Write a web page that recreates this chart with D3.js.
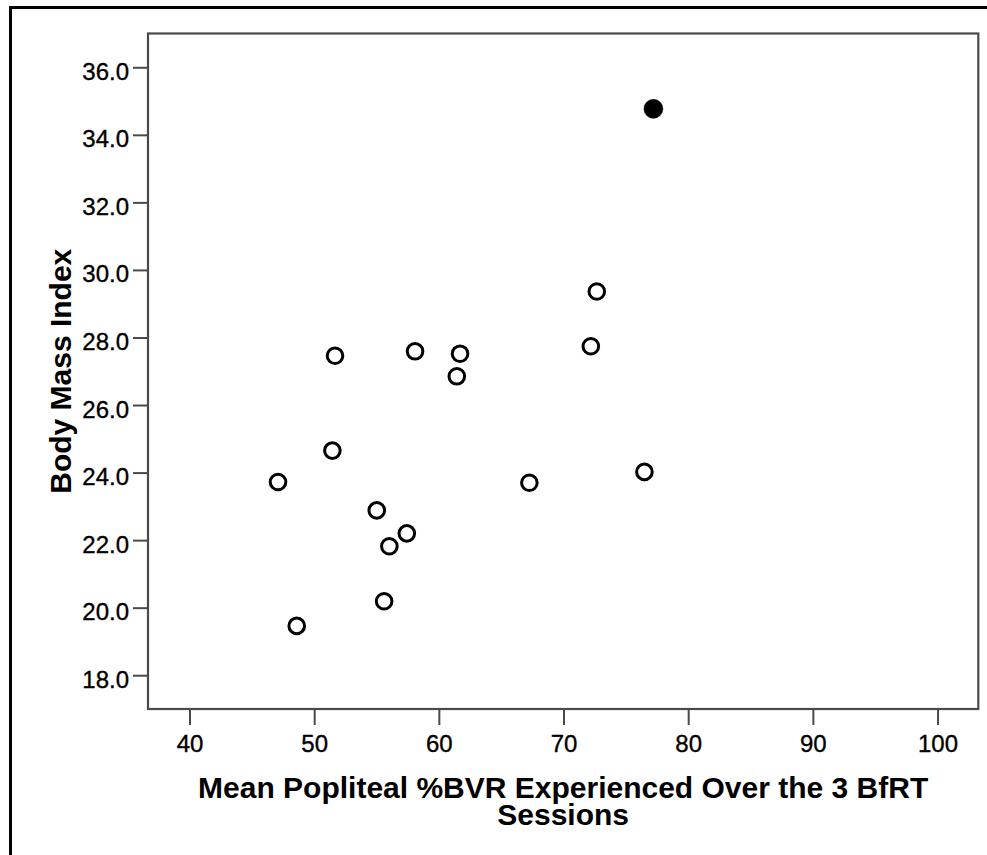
<!DOCTYPE html>
<html>
<head>
<meta charset="utf-8">
<script src="https://cdn.jsdelivr.net/npm/d3@7"></script>
<style>
  html, body { margin: 0; padding: 0; background: #fff; }
  svg { display: block; }
  text { font-family: "Liberation Sans", Arial, sans-serif; fill: #000; }
</style>
</head>
<body>
<script>
// ---- data ----
const bvr = [47.10, 48.60, 51.46, 51.67, 55.02, 55.61, 56.03, 57.43, 58.09, 61.44, 61.70, 67.26, 72.19, 72.67, 76.49, 77.21];
const bmi = [23.72, 19.46, 24.65, 27.46, 22.88, 20.19, 21.82, 22.20, 27.59, 26.85, 27.52, 23.70, 27.74, 29.36, 24.02, 34.77];
const highlighted = [false, false, false, false, false, false, false, false, false, false, false, false, false, false, false, true];
const xTicks = [40, 50, 60, 70, 80, 90, 100];
const yTicks = [18, 20, 22, 24, 26, 28, 30, 32, 34, 36];
const xTitleLines = ["Mean Popliteal %BVR Experienced Over the 3 BfRT", "Sessions"];
const yTitle = "Body Mass Index";

const W = 987, H = 855;
const plot = { left: 148, top: 33.5, right: 978.3, bottom: 709 };

const svg = d3.select("body").append("svg").attr("width", W).attr("height", H);

// outer frame
svg.append("rect").attr("x", 10.5).attr("y", 7.5).attr("width", 1000).attr("height", 1000)
  .attr("fill", "none").attr("stroke", "#000").attr("stroke-width", 3);

const x = d3.scaleLinear().domain([36.67, 103.27]).range([plot.left, plot.right]);
const y = d3.scaleLinear().domain([17, 37]).range([plot.bottom, plot.top]);

const axisColor = "#4a4a4a";

// plot frame
svg.append("rect")
  .attr("x", plot.left).attr("y", plot.top)
  .attr("width", plot.right - plot.left).attr("height", plot.bottom - plot.top)
  .attr("fill", "#fff").attr("stroke", axisColor).attr("stroke-width", 2.2);

// x axis
const xAxis = svg.append("g").attr("transform", `translate(0,${plot.bottom})`)
  .call(d3.axisBottom(x).tickValues(xTicks).tickSize(16).tickPadding(10).tickFormat(d3.format("d")));
xAxis.select(".domain").remove();
xAxis.selectAll(".tick line").attr("stroke", axisColor).attr("stroke-width", 2);
xAxis.selectAll(".tick text").attr("font-size", 24).attr("font-family", "Liberation Sans, Arial, sans-serif")
  .attr("fill", "#000").attr("stroke", "#000").attr("stroke-width", 0.35);

// y axis
const yAxis = svg.append("g").attr("transform", `translate(${plot.left},0)`)
  .call(d3.axisLeft(y).tickValues(yTicks).tickSize(15).tickPadding(4).tickFormat(d3.format(".1f")));
yAxis.select(".domain").remove();
yAxis.selectAll(".tick line").attr("stroke", axisColor).attr("stroke-width", 2);
yAxis.selectAll(".tick text").attr("font-size", 24).attr("font-family", "Liberation Sans, Arial, sans-serif")
  .attr("fill", "#000").attr("stroke", "#000").attr("stroke-width", 0.35).attr("dy", "0.5em");

// points
const pts = bvr.map((v, i) => ({ x: v, y: bmi[i], hi: highlighted[i] }));
svg.append("g").selectAll("circle").data(pts).join("circle")
  .attr("cx", d => x(d.x)).attr("cy", d => y(d.y))
  .attr("r", d => d.hi ? 9.5 : 7.8)
  .attr("fill", d => d.hi ? "#000" : "#fff")
  .attr("stroke", "#000")
  .attr("stroke-width", d => d.hi ? 0.5 : 3);

// titles
const cx = (plot.left + plot.right) / 2, cy = (plot.top + plot.bottom) / 2;
svg.append("g").selectAll("text").data(xTitleLines).join("text")
  .attr("x", cx).attr("y", (d, i) => 798 + i * 27)
  .attr("text-anchor", "middle").attr("font-size", 30).attr("font-weight", "bold")
  .text(d => d);

svg.append("text")
  .attr("transform", `translate(70.5,${cy}) rotate(-90)`)
  .attr("text-anchor", "middle").attr("font-size", 30).attr("font-weight", "bold")
  .text(yTitle);
</script>
</body>
</html>
